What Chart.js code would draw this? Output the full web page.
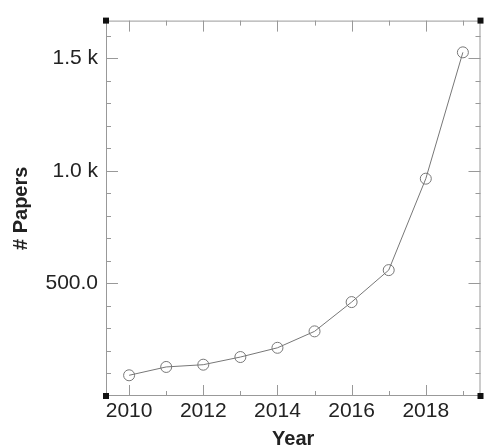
<!DOCTYPE html>
<html>
<head>
<meta charset="utf-8">
<script src="https://cdn.jsdelivr.net/npm/chart.js@4/dist/chart.umd.min.js"></script>
<style>
  html, body { margin: 0; padding: 0; background: #fff; }
  #wrap { width: 487px; height: 448px; }
</style>
</head>
<body>
<div id="wrap"><canvas id="graph"></canvas></div>
<script>
// Data arrays
const years = [2010, 2011, 2012, 2013, 2014, 2015, 2016, 2017, 2018, 2019];
const papers = [92, 129, 139, 173, 214, 287, 417, 559, 965, 1526];
const yTickValues = [500, 1000, 1500];
const yTickLabels = ['500.0', '1.0 k', '1.5 k'];
const xTickValues = [2010, 2012, 2014, 2016, 2018];

Chart.defaults.font.family = '"Liberation Sans", Arial, sans-serif';
Chart.defaults.color = '#222';

// box, inward ticks and corner squares
const frame = {
    id: 'frame',
    afterDraw(chart) {
        const {ctx, chartArea: a, scales: {x, y}} = chart;
        ctx.save();
        ctx.strokeStyle = '#999';
        ctx.lineWidth = 1;
        ctx.strokeRect(a.left + 0.5, a.top + 0.5, a.right - a.left - 1, a.bottom - a.top - 1);
        ctx.beginPath();
        for (let v = 100; v <= 1600; v += 100) {
            const py = Math.round(y.getPixelForValue(v)) + 0.5;
            const len = v % 500 === 0 ? 12 : 5;
            ctx.moveTo(a.left, py); ctx.lineTo(a.left + len, py);
            ctx.moveTo(a.right, py); ctx.lineTo(a.right - len, py);
        }
        for (const yr of years) {
            const px = Math.round(x.getPixelForValue(yr)) + 0.5;
            const len = yr % 2 === 0 ? 11 : 5;
            ctx.moveTo(px, a.bottom); ctx.lineTo(px, a.bottom - len);
            ctx.moveTo(px, a.top); ctx.lineTo(px, a.top + len);
        }
        ctx.stroke();
        ctx.fillStyle = '#111';
        [[a.left, a.top], [a.right, a.top], [a.left, a.bottom], [a.right, a.bottom]].forEach(([cx, cy]) => {
            ctx.fillRect(cx - 3, cy - 3, 6, 6);
        });
        ctx.restore();
    }
};

const ctx = document.getElementById('graph').getContext('2d');

const graph = new Chart(ctx, {
    type: 'line',
    data: {
        datasets: [{
            label: '# Papers',
            data: years.map((yr, i) => ({x: yr, y: papers[i]})),
            borderColor: '#777',
            borderWidth: 1,
            backgroundColor: 'rgba(0,0,0,0)',
            pointRadius: 5.5,
            pointHoverRadius: 5.5,
            pointBorderColor: '#777',
            pointBorderWidth: 1,
            pointBackgroundColor: 'rgba(0,0,0,0)',
            tension: 0
        }]
    },
    options: {
        responsive: true,
        maintainAspectRatio: false,
        animation: false,
        layout: {
            padding: {top: 17, right: 3, left: 0, bottom: 0}
        },
        scales: {
            x: {
                type: 'linear',
                min: 2009.377,
                max: 2019.475,
                border: {display: false},
                grid: {display: false, drawTicks: false},
                afterBuildTicks: (s) => { s.ticks = xTickValues.map(v => ({value: v})); },
                afterFit: (s) => { s.height = 52; },
                ticks: {
                    padding: 3,
                    maxRotation: 0,
                    autoSkip: false,
                    font: {size: 21},
                    callback: (v) => String(v)
                },
                title: {
                    display: true,
                    text: 'Year',
                    font: {size: 20, weight: 'bold'},
                    padding: {top: 0, bottom: -3}
                }
            },
            y: {
                min: 0,
                max: 1667,
                border: {display: false},
                grid: {display: false, drawTicks: false},
                afterBuildTicks: (s) => { s.ticks = yTickValues.map(v => ({value: v})); },
                afterFit: (s) => { s.width = 106; },
                ticks: {
                    padding: 8,
                    autoSkip: false,
                    font: {size: 21},
                    callback: (v) => yTickLabels[yTickValues.indexOf(v)]
                },
                title: {
                    display: true,
                    text: '# Papers',
                    font: {size: 20, weight: 'bold'},
                    padding: {top: 9, bottom: 0}
                }
            }
        },
        plugins: {
            legend: {display: false},
            tooltip: {enabled: false}
        }
    },
    plugins: [frame]
});
</script>
</body>
</html>
